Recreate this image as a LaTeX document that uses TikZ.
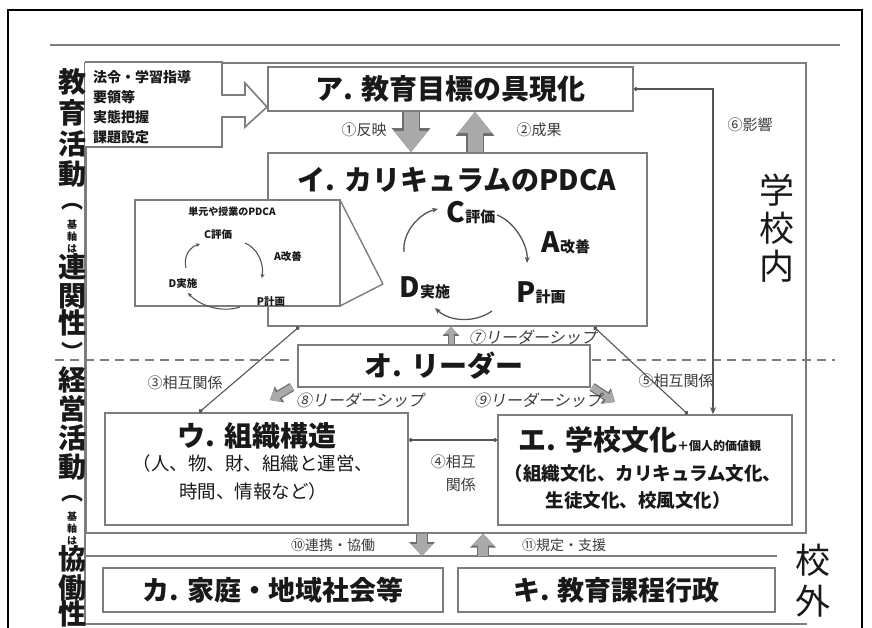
\documentclass[tikz,border=0pt]{standalone}
\usepackage{fontspec}
\setmainfont{Noto Sans CJK JP}
\newfontfamily\jpsl{Noto Sans CJK JP}[FakeSlant=0.18]
\usetikzlibrary{arrows.meta,calc}
\definecolor{boxgray}{RGB}{125,125,125}
\definecolor{linegray}{RGB}{85,85,85}
\definecolor{arrgray}{RGB}{170,170,170}
\definecolor{arrdark}{RGB}{110,110,110}
\definecolor{txt}{RGB}{25,25,25}
\definecolor{lbl}{RGB}{60,60,60}
\begin{document}
\begin{tikzpicture}[x=1pt,y=-1pt,
  box/.style={draw=boxgray,line width=1.6pt,fill=white,inner sep=0pt},
  ttl/.style={font=\fontsize{28}{30}\selectfont\bfseries,text=txt,inner sep=0pt},
  sub/.style={font=\fontsize{18.5}{20}\selectfont,text=txt,inner sep=0pt},
  subb/.style={font=\fontsize{18.5}{20}\selectfont\bfseries,text=txt,inner sep=0pt},
  lab/.style={font=\fontsize{15}{16}\selectfont,text=lbl,inner sep=0pt},
  slab/.style={font=\jpsl\fontsize{16}{16}\selectfont,text=lbl,inner sep=0pt},
  conn/.style={draw=linegray,line width=1.1pt},
  dotend/.style={{Circle[length=4pt]}-{Circle[length=4pt]}},
  blko/.style={line width=18pt,draw=arrdark,-{Triangle[length=24pt,width=37pt]}},
  blk/.style={line width=15pt,draw=arrgray,-{Triangle[length=21pt,width=32pt]}},
  blksmo/.style={line width=12pt,draw=arrdark,-{Triangle[length=14pt,width=25pt]}},
  blksm/.style={line width=9.5pt,draw=arrgray,-{Triangle[length=12pt,width=21pt]}},
  blkxso/.style={line width=9pt,draw=arrdark,-{Triangle[length=11pt,width=18pt]}},
  blkxs/.style={line width=6.5pt,draw=arrgray,-{Triangle[length=9pt,width=14pt]}},
  arc/.style={draw=linegray,line width=1.3pt,-{Stealth[length=6pt,width=5pt]}},
  sarc/.style={draw=linegray,line width=1.1pt,-{Stealth[length=4pt,width=4pt]}},
  vch/.style={font=\fontsize{28}{28}\selectfont\bfseries,text=txt,inner sep=0pt},
  vpar/.style={font=\fontsize{22}{22}\selectfont\bfseries,text=txt,inner sep=0pt},
  vsm/.style={font=\fontsize{10}{10}\selectfont\bfseries,text=txt,inner sep=0pt},
  big/.style={font=\fontsize{35}{35}\selectfont,text=txt,inner sep=0pt},
]
\useasboundingbox (0,0) rectangle (872,628);
\fill[white] (0,0) rectangle (872,628);
% outer frame
\draw[line width=2.5pt,black] (8,630) -- (8,10) -- (862,10) -- (862,630);
% top rule
\draw[boxgray,line width=1.5pt] (50,45) -- (840,45);
% school-inside region
\node[box,fill=none,minimum width=720pt,minimum height=470pt,anchor=north west] (school) at (85,62) {};
\draw[boxgray,line width=1.6pt] (85,62) -- (85,626);
% outside region lines
\coordinate (otop) at (85,556);
\coordinate (obot) at (85,624);
\draw[boxgray,line width=1.6pt] (otop) -- (777,556);
\draw[boxgray,line width=1.6pt] (obot) -- (807,624);

% dashed separator
\draw[boxgray,line width=1.6pt,dash pattern=on 9pt off 6pt] (55,360) -- (292,360);
\draw[boxgray,line width=1.6pt,dash pattern=on 9pt off 6pt] (592,360) -- (835,360);

% input arrow box
\draw[boxgray,line width=1.6pt,fill=white] (85,62) -- (222,62) -- (222,95) -- (245,95) -- (245,83) -- (267,107) -- (245,127) -- (245,117) -- (222,117) -- (222,147) -- (85,147);
\node[font=\fontsize{14}{14}\selectfont\bfseries,text=txt,anchor=west,inner sep=0pt] (in1) at (93,77) {法令・学習指導};
\node[font=\fontsize{14}{14}\selectfont\bfseries,text=txt,anchor=west,inner sep=0pt] (in2) at (93,97) {要領等};
\node[font=\fontsize{14}{14}\selectfont\bfseries,text=txt,anchor=west,inner sep=0pt] (in3) at (93,117) {実態把握};
\node[font=\fontsize{14}{14}\selectfont\bfseries,text=txt,anchor=west,inner sep=0pt] (in4) at (93,137) {課題設定};

% A box
\node[box,ttl,minimum width=365pt,minimum height=44pt] (A) at (450.5,89) {ア. 教育目標の具現化};
% I box
\node[box,minimum width=379pt,minimum height=173pt] (I) at (457.5,239.5) {};
\node[ttl] (Ititle) at (457,180) {イ. カリキュラムのPDCA};

% small PDCA box with pointer
\coordinate (Dconv) at (383,284);
\draw[boxgray,line width=1.4pt] (Dconv) -- (340,200);
\draw[boxgray,line width=1.4pt] (Dconv) -- (340,306);
\node[box,line width=1.4pt,minimum width=205pt,minimum height=106pt] (S) at (237.5,253) {};
\node[font=\fontsize{10}{10}\selectfont\bfseries,text=txt,inner sep=0pt] (sT) at (232,212) {単元や授業のPDCA};
\node[font=\fontsize{10.5}{10}\selectfont\bfseries,text=txt,inner sep=0pt] (sC) at (218,235) {C評価};
\node[font=\fontsize{10.5}{10}\selectfont\bfseries,text=txt,inner sep=0pt] (sA) at (288,257) {A改善};
\node[font=\fontsize{10.5}{10}\selectfont\bfseries,text=txt,inner sep=0pt] (sD) at (183,284) {D実施};
\node[font=\fontsize{10.5}{10}\selectfont\bfseries,text=txt,inner sep=0pt] (sP) at (271,302) {P計画};
\coordinate (sa1) at (186,268); \coordinate (sa2) at (200,244);
\draw[sarc] (sa1) .. controls (183,256) and (190,247) .. (sa2);
\coordinate (sb1) at (245,243); \coordinate (sb2) at (262,278);
\draw[sarc] (sb1) .. controls (257,248) and (264,262) .. (sb2);
\coordinate (sc1) at (240,307); \coordinate (sc2) at (188,293);
\draw[sarc] (sc1) .. controls (222,313) and (200,306) .. (sc2);

% big PDCA
\node[text=txt,inner sep=0pt] (bC) at (471,213) {\fontsize{28}{28}\selectfont\bfseries C\fontsize{15}{15}\selectfont 評価};
\node[text=txt,inner sep=0pt] (bA) at (566,243) {\fontsize{28}{28}\selectfont\bfseries A\fontsize{15}{15}\selectfont 改善};
\node[text=txt,inner sep=0pt] (bD) at (425,288) {\fontsize{28}{28}\selectfont\bfseries D\fontsize{15}{15}\selectfont 実施};
\node[text=txt,inner sep=0pt] (bP) at (541,293) {\fontsize{28}{28}\selectfont\bfseries P\fontsize{15}{15}\selectfont 計画};
\coordinate (ba1) at (404,252); \coordinate (ba2) at (438,209);
\draw[arc] (ba1) .. controls (402,232) and (420,213) .. (ba2);
\coordinate (bb1) at (497,215); \coordinate (bb2) at (527,263);
\draw[arc] (bb1) .. controls (515,222) and (528,245) .. (bb2);
\coordinate (bc1) at (492,311); \coordinate (bc2) at (435,308);
\draw[arc] (bc1) .. controls (475,323) and (450,322) .. (bc2);

% block arrows 1, 2
\coordinate (x1) at (411,0);
\coordinate (x2) at (475,0);
\draw[blko] (A.south -| x1) -- (I.north -| x1);
\draw[blk] (A.south -| x1) -- (I.north -| x1);
\draw[blko] (I.north -| x2) -- (A.south -| x2);
\draw[blk] (I.north -| x2) -- (A.south -| x2);
\node[lab] (l1) at (364,130) {①反映};
\node[lab] (l2) at (539,130) {②成果};

% O box
\node[box,ttl,minimum width=292pt,minimum height=42pt] (O) at (444,366) {オ. リーダー};
\coordinate (x7) at (451,0);
\draw[line width=7pt,draw=arrdark,-{Triangle[length=9pt,width=16pt]}] (O.north -| x7) -- (I.south -| x7);
\draw[line width=5pt,draw=arrgray,-{Triangle[length=7pt,width=12pt]}] (O.north -| x7) -- (I.south -| x7);
\node[slab] (l7) at (533,337) {⑦リーダーシップ};

% U box
\node[box,minimum width=303pt,minimum height=112pt] (U) at (256.5,469) {};
\node[ttl] (Ut) at (257,436) {ウ. 組織構造};
\node[sub] (Us1) at (253,463) {（人、物、財、組織と運営、};
\node[sub] (Us2) at (253,491) {時間、情報など）};

% E box
\node[box,minimum width=294pt,minimum height=110pt] (E) at (645,470) {};
\node[ttl] (Et) at (640,440) {エ. 学校文化{\fontsize{12}{12}\selectfont ＋個人的価値観}};
\node[subb] (Es1) at (643,473) {（組織文化、カリキュラム文化、};
\node[subb] (Es2) at (638,500) {生徒文化、校風文化）};

% connectors 3, 4, 5, 6
\draw[conn,dotend] ([xshift=32pt]I.south west) -- ([xshift=95pt]U.north west);
\node[lab] (l3) at (185,383) {③相互関係};
\draw[conn,dotend] ([xshift=-54pt]I.south east) -- ([xshift=-105pt]E.north east);
\node[lab] (l5) at (676,381) {⑤相互関係};
\draw[conn,dotend] ([yshift=29pt]U.east) -- ([yshift=30pt]E.west);
\node[lab,align=right,anchor=east,font=\fontsize{15}{23}\selectfont] (l4) at (476,473) {④相互\\関係};
\draw[conn,{Circle[length=4pt]}-{Stealth[length=7pt,width=6pt]}] (A.east) -| ([xshift=68pt]E.north);
\node[lab] (l6) at (750,125) {⑥影響};

% leadership 8, 9
\coordinate (e8s) at (292,387); \coordinate (e8e) at (270,400);
\draw[blkxso] (e8s) -- (e8e);
\draw[blkxs] (e8s) -- (e8e);
\node[slab] (l8) at (360,400) {⑧リーダーシップ};
\coordinate (e9s) at (592,387); \coordinate (e9e) at (615,402);
\draw[blkxso] (e9s) -- (e9e);
\draw[blkxs] (e9s) -- (e9e);
\node[slab] (l9) at (538,400) {⑨リーダーシップ};

% outside arrows 10, 11
\coordinate (x10) at (422,0);
\coordinate (x11) at (483,0);
\draw[blksmo] (school.south -| x10) -- (otop -| x10);
\draw[blksm] (school.south -| x10) -- (otop -| x10);
\draw[blksmo] (otop -| x11) -- (school.south -| x11);
\draw[blksm] (otop -| x11) -- (school.south -| x11);
\node[lab,font=\fontsize{14}{14}\selectfont] (l10) at (333,545) {⑩連携・協働};
\node[lab,font=\fontsize{14}{14}\selectfont] (l11) at (564,545) {⑪規定・支援};

% outside boxes
\node[box,minimum width=340pt,minimum height=44pt,font=\fontsize{27}{28}\selectfont\bfseries,text=txt] (Ka) at (273,590) {カ. 家庭・地域社会等};
\node[box,minimum width=317pt,minimum height=44pt,font=\fontsize{27}{28}\selectfont\bfseries,text=txt] (Ki) at (616.5,590) {キ. 教育課程行政};

% big side labels
\node[big] (g1) at (777,190) {学};
\node[big] (g2) at (777,228) {校};
\node[big] (g3) at (777,266) {内};
\node[big] (g4) at (813,560) {校};
\node[big] (g5) at (813,601) {外};

% left vertical texts
\foreach \c/\y in {教/82,育/113,活/144,動/174,連/267,関/296,性/323,経/380,営/409,活/438,動/467,協/559,働/588,性/614}
  \node[vch] (v\y) at (72,\y) {\c};
\node[vpar] (p1) at (72,207) {︵};
\node[vpar] (p2) at (72,351) {︶};
\node[vpar] (p3) at (72,499) {︵};
\foreach \c/\y in {基/225,軸/237,は/249,基/517,軸/529,は/541}
  \node[vsm] (w\y) at (72,\y) {\c};
\end{tikzpicture}
\end{document}
